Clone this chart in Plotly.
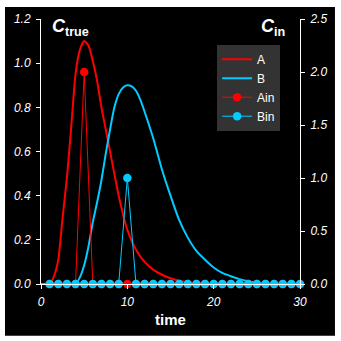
import plotly.graph_objects as go

# Curve A (C_true, left axis)
time_A = [0, 1, 1.5, 2, 2.5, 3, 3.5, 4, 4.5, 5, 5.5, 6, 6.5, 7, 7.5, 8, 9, 10, 11, 12, 13, 14, 15,
          16, 17, 18, 19, 20, 21, 22, 23, 24, 25, 26, 27, 28, 29, 30]
A_vals = [0, 0, 0.035, 0.11, 0.30, 0.48, 0.71, 0.95, 1.06, 1.10, 1.08, 1.01, 0.92, 0.80, 0.70, 0.60,
          0.40, 0.245, 0.155, 0.10, 0.065, 0.042, 0.026, 0.015, 0.008, 0.004, 0.002, 0, 0, 0, 0, 0,
          0, 0, 0, 0, 0, 0]

# Curve B (C_true, left axis)
time_B = [0, 1, 2, 3, 4, 4.5, 5, 5.5, 6, 6.5, 7, 7.5, 8, 8.5, 9, 9.5, 10, 10.5, 11, 11.5, 12, 13,
          14, 15, 16, 17, 18, 19, 20, 21, 22, 23, 24, 25, 26, 27, 28, 29, 30]
B_vals = [0, 0, 0, 0, 0, 0.03, 0.085, 0.17, 0.28, 0.37, 0.47, 0.59, 0.70, 0.80, 0.86, 0.89, 0.90,
          0.895, 0.875, 0.835, 0.78, 0.66, 0.52, 0.40, 0.29, 0.21, 0.15, 0.11, 0.075, 0.05, 0.035,
          0.022, 0.013, 0.006, 0.002, 0, 0, 0, 0]

# Inputs (C_in, right axis)
time_in = list(range(1, 31))
Ain_vals = [0, 0, 0, 0, 2.0] + [0] * 25
Bin_vals = [0] * 9 + [1.0] + [0] * 20

RED = "#FF0000"
CYAN = "#00CCFF"
FONT = "Arial, Liberation Sans, sans-serif"

fig = go.Figure()
fig.add_trace(go.Scatter(x=time_A, y=A_vals, name="A", mode="lines",
                         line=dict(color=RED, width=2, shape="spline", smoothing=0.6)))
fig.add_trace(go.Scatter(x=time_B, y=B_vals, name="B", mode="lines",
                         line=dict(color=CYAN, width=2, shape="spline", smoothing=0.6)))
fig.add_trace(go.Scatter(x=time_in, y=Ain_vals, name="Ain", mode="lines+markers", yaxis="y2",
                         line=dict(color=RED, width=1), marker=dict(color=RED, size=8.5),
                         cliponaxis=False))
fig.add_trace(go.Scatter(x=time_in, y=Bin_vals, name="Bin", mode="lines+markers", yaxis="y2",
                         line=dict(color=CYAN, width=1), marker=dict(color=CYAN, size=8.5),
                         cliponaxis=False))

axis_common = dict(showgrid=False, zeroline=False, showline=True, linecolor="white", linewidth=1,
                   ticks="outside", ticklen=4, tickcolor="white", ticklabelstandoff=3,
                   tickfont=dict(family=FONT, size=12, color="white", style="italic"))

fig.update_layout(
    width=341, height=341,
    margin=dict(l=41, r=41, t=17, b=57),
    paper_bgcolor="white",
    plot_bgcolor="black",
    font=dict(family=FONT, color="white"),
    xaxis=dict(range=[0, 30], dtick=10, tick0=0,
               title=dict(text="<b>time</b>", font=dict(family=FONT, size=15, color="white"),
                          standoff=6),
               **axis_common),
    yaxis=dict(range=[0, 1.2], dtick=0.2, tick0=0, tickformat=".1f", **axis_common),
    yaxis2=dict(range=[0, 2.5], dtick=0.5, tick0=0, tickformat=".1f", overlaying="y",
                side="right", **axis_common),
    legend=dict(x=0.68, y=0.903, xanchor="left", yanchor="top", bgcolor="#333333",
                font=dict(family=FONT, size=12, color="white"), borderwidth=0),
    shapes=[dict(type="rect", xref="paper", yref="paper", x0=-0.139, x1=1.135, y0=-0.195,
                 y1=1.045, fillcolor="black", line=dict(width=0), layer="below")],
    annotations=[
        dict(text="<b><i>C</i></b><b><sub>true</sub></b>", xref="paper", yref="paper",
             x=0.035, y=1.02, xanchor="left", yanchor="top", showarrow=False,
             font=dict(family=FONT, size=18, color="white")),
        dict(text="<b><i>C</i></b><b><sub>in</sub></b>", xref="paper", yref="paper",
             x=0.84, y=1.02, xanchor="left", yanchor="top", showarrow=False,
             font=dict(family=FONT, size=18, color="white")),
    ],
    showlegend=True,
)

fig.write_html("out.html")
